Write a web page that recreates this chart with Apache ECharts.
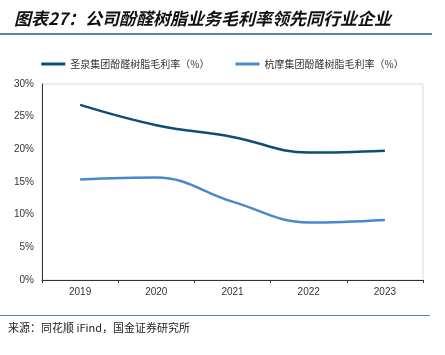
<!DOCTYPE html>
<html><head><meta charset="utf-8">
<script src="https://cdn.jsdelivr.net/npm/echarts@6/dist/echarts.min.js"></script>
<style>html,body{margin:0;padding:0;background:#fff}#c{width:445px;height:355px}</style>
</head><body><div id="c"></div>
<script>
const categories = ['2019','2020','2021','2022','2023'];
const seriesNames = ['圣泉集团酚醛树脂毛利率（%）','杭摩集团酚醛树脂毛利率（%）'];
const shengquan = [26.8, 23.7, 21.9, 19.5, 19.8];
const hangmo = [15.4, 15.7, 12.0, 8.8, 9.2];
const yTicks = [0, 5, 10, 15, 20, 25, 30];

const chart = echarts.init(document.getElementById('c'), null, {renderer:'canvas'});
const cjk = '"Noto Sans CJK SC", sans-serif';
chart.setOption({
  animation:false,
  backgroundColor:'#fff',
  title:{text:'图表27：公司酚醛树脂业务毛利率领先同行业企业', left:9, top:5,
    textStyle:{fontFamily:cjk, fontSize:17, fontWeight:'bold', fontStyle:'italic', color:'#111'}},
  graphic:[
    {type:'rect', shape:{x:0,y:33,width:432,height:2}, style:{fill:'#5a86a8'}},
    {type:'rect', shape:{x:0,y:315,width:430,height:1}, style:{fill:'#5a86a8'}},
    {type:'rect', shape:{x:42,y:84,width:381,height:196}, style:{fill:'none', stroke:'#d9d9d9', lineWidth:1}, z:-1},
    {type:'text', left:8, top:322, style:{text:'来源：同花顺 iFind，国金证券研究所', font:'11px "Noto Sans CJK SC"', fill:'#222'}}
  ],
  legend:{top:54, left:'center', itemWidth:24, itemHeight:3, itemGap:26,
    icon:'rect',
    textStyle:{fontFamily:cjk, fontSize:10, color:'#333'},
    data:seriesNames},
  grid:{left:42, right:22, top:84, bottom:75, containLabel:false},
  xAxis:{type:'category', data:categories, boundaryGap:true,
    axisLine:{lineStyle:{color:'#333', width:1}},
    axisTick:{show:true, alignWithLabel:false, length:3, lineStyle:{color:'#333'}},
    axisLabel:{fontFamily:'"Liberation Sans", Arial', fontSize:10, color:'#333', margin:7}},
  yAxis:{type:'value', min:yTicks[0], max:yTicks[yTicks.length-1], interval:5,
    axisLine:{show:true, lineStyle:{color:'#333', width:1}},
    axisTick:{show:false},
    splitLine:{show:false},
    axisLabel:{fontFamily:'"Liberation Sans", Arial', fontSize:10, color:'#333', margin:8, formatter:v=>v+'%'}},
  series:[
    {name:seriesNames[0], type:'line', data:shengquan, smooth:0.4, symbol:'none',
      lineStyle:{color:'#0e4d78', width:2.5}, itemStyle:{color:'#0e4d78'}},
    {name:seriesNames[1], type:'line', data:hangmo, smooth:0.4, symbol:'none',
      lineStyle:{color:'#4a88cc', width:2.5}, itemStyle:{color:'#4a88cc'}}
  ]
});
</script></body></html>
